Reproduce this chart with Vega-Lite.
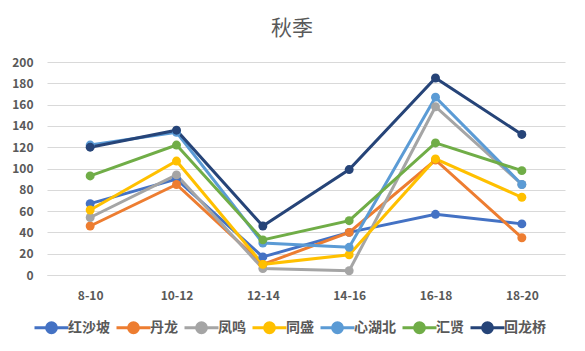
{
  "$schema": "https://vega.github.io/schema/vega-lite/v6.json",
  "autosize": {"type": "none"},
  "width": 518,
  "height": 213,
  "padding": {"left": 47, "top": 62, "right": 20, "bottom": 76},
  "background": "#ffffff",
  "title": {"text": "秋季", "fontSize": 21, "fontWeight": "normal", "color": "#595959", "offset": 17, "dx": -14, "font": "Noto Sans CJK SC"},
  "data": {"values": [
    {"t": "8-10", "s": "红沙坡", "v": 67}, {"t": "10-12", "s": "红沙坡", "v": 90}, {"t": "12-14", "s": "红沙坡", "v": 17}, {"t": "14-16", "s": "红沙坡", "v": 40}, {"t": "16-18", "s": "红沙坡", "v": 57}, {"t": "18-20", "s": "红沙坡", "v": 48},
    {"t": "8-10", "s": "丹龙", "v": 46}, {"t": "10-12", "s": "丹龙", "v": 85}, {"t": "12-14", "s": "丹龙", "v": 10}, {"t": "14-16", "s": "丹龙", "v": 40}, {"t": "16-18", "s": "丹龙", "v": 108}, {"t": "18-20", "s": "丹龙", "v": 35},
    {"t": "8-10", "s": "凤鸣", "v": 54}, {"t": "10-12", "s": "凤鸣", "v": 94}, {"t": "12-14", "s": "凤鸣", "v": 6}, {"t": "14-16", "s": "凤鸣", "v": 4}, {"t": "16-18", "s": "凤鸣", "v": 158}, {"t": "18-20", "s": "凤鸣", "v": 85},
    {"t": "8-10", "s": "同盛", "v": 61}, {"t": "10-12", "s": "同盛", "v": 107}, {"t": "12-14", "s": "同盛", "v": 10}, {"t": "14-16", "s": "同盛", "v": 19}, {"t": "16-18", "s": "同盛", "v": 109}, {"t": "18-20", "s": "同盛", "v": 73},
    {"t": "8-10", "s": "心湖北", "v": 122}, {"t": "10-12", "s": "心湖北", "v": 134}, {"t": "12-14", "s": "心湖北", "v": 30}, {"t": "14-16", "s": "心湖北", "v": 26}, {"t": "16-18", "s": "心湖北", "v": 167}, {"t": "18-20", "s": "心湖北", "v": 85},
    {"t": "8-10", "s": "汇贤", "v": 93}, {"t": "10-12", "s": "汇贤", "v": 122}, {"t": "12-14", "s": "汇贤", "v": 33}, {"t": "14-16", "s": "汇贤", "v": 51}, {"t": "16-18", "s": "汇贤", "v": 124}, {"t": "18-20", "s": "汇贤", "v": 98},
    {"t": "8-10", "s": "回龙桥", "v": 120}, {"t": "10-12", "s": "回龙桥", "v": 136}, {"t": "12-14", "s": "回龙桥", "v": 46}, {"t": "14-16", "s": "回龙桥", "v": 99}, {"t": "16-18", "s": "回龙桥", "v": 185}, {"t": "18-20", "s": "回龙桥", "v": 132}
  ]},
  "encoding": {
    "x": {"field": "t", "type": "ordinal", "sort": null, "scale": {"type": "point", "padding": 0.5},
      "axis": {"title": null, "labelAngle": 0, "ticks": false, "domain": true, "domainColor": "#d9d9d9", "labelPadding": 15, "labelFontSize": 12, "labelFontWeight": "bold", "labelColor": "#595959", "labelFont": "Noto Sans CJK SC", "grid": false}},
    "y": {"field": "v", "type": "quantitative", "scale": {"domain": [0, 200], "nice": false},
      "axis": {"title": null, "values": [0, 20, 40, 60, 80, 100, 120, 140, 160, 180, 200], "ticks": false, "domain": false, "labelPadding": 14, "labelFontSize": 12, "labelFontWeight": "bold", "labelColor": "#595959", "labelFont": "Noto Sans CJK SC", "gridColor": "#d9d9d9"}},
    "color": {"field": "s", "type": "nominal",
      "scale": {"domain": ["红沙坡", "丹龙", "凤鸣", "同盛", "心湖北", "汇贤", "回龙桥"], "range": ["#4472C4", "#ED7D31", "#A5A5A5", "#FFC000", "#5B9BD5", "#70AD47", "#264478"]},
      "legend": {"title": null, "orient": "none", "direction": "horizontal", "legendX": -14, "legendY": 247,
        "symbolType": "M-1,0H1M0.29,0A0.29,0.29,0,1,1,-0.29,0A0.29,0.29,0,1,1,0.29,0Z", "symbolSize": 1156, "symbolStrokeWidth": 3,
        "labelFontSize": 14, "labelFontWeight": "bold", "labelColor": "#595959", "labelFont": "Noto Sans CJK SC", "labelOffset": -2, "columnPadding": 0}}
  },
  "layer": [
    {"mark": {"type": "line", "strokeWidth": 3}},
    {"mark": {"type": "point", "filled": true, "size": 80, "opacity": 1}}
  ],
  "config": {"view": {"stroke": null}, "font": "Noto Sans CJK SC"}
}
